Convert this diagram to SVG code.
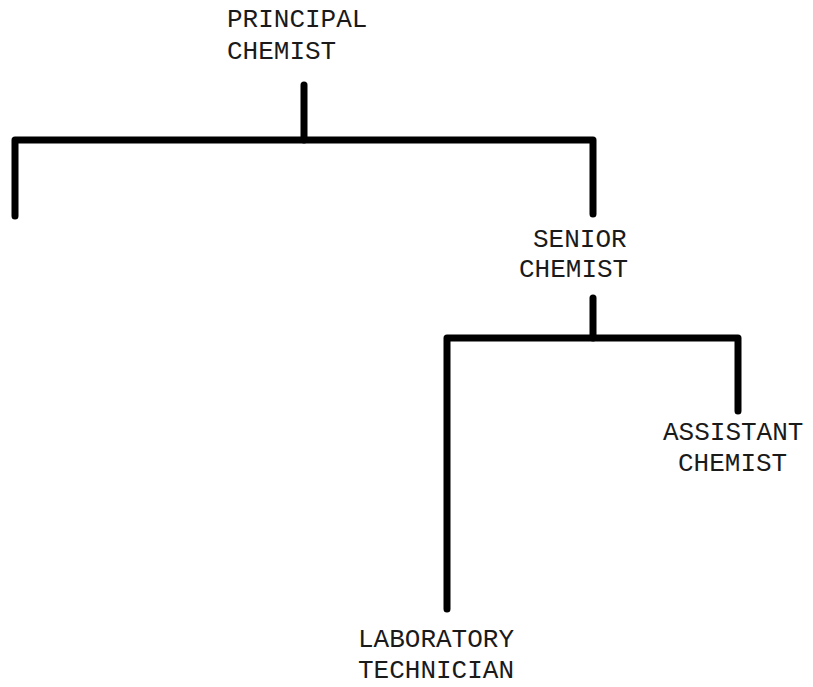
<svg xmlns="http://www.w3.org/2000/svg" width="813" height="687" viewBox="0 0 813 687">
  <style>
    .label { font-family: "Liberation Mono", "Courier New", monospace; font-size: 26px; fill: #1a1a1a; }
    .link { fill: none; stroke: #000; stroke-width: 7; stroke-linecap: round; stroke-linejoin: round; }
  </style>
  <rect width="813" height="687" fill="#fff"/>

  <!-- reporting lines -->
  <g id="connectors">
    <path class="link" d="M304,85 V140"/>
    <path class="link" d="M15,216 V140 H593 V214"/>
    <path class="link" d="M593,298 V338"/>
    <path class="link" d="M447,609 V338 H738 V411"/>
  </g>

  <g id="principal-chemist">
    <text class="label" x="227" y="27">PRINCIPAL</text>
    <text class="label" x="227" y="59">CHEMIST</text>
  </g>

  <g id="senior-chemist">
    <text class="label" x="533" y="247">SENIOR</text>
    <text class="label" x="519" y="277">CHEMIST</text>
  </g>

  <g id="assistant-chemist">
    <text class="label" x="663" y="440">ASSISTANT</text>
    <text class="label" x="678" y="471">CHEMIST</text>
  </g>

  <g id="laboratory-technician">
    <text class="label" x="358" y="647">LABORATORY</text>
    <text class="label" x="358" y="678">TECHNICIAN</text>
  </g>
</svg>
